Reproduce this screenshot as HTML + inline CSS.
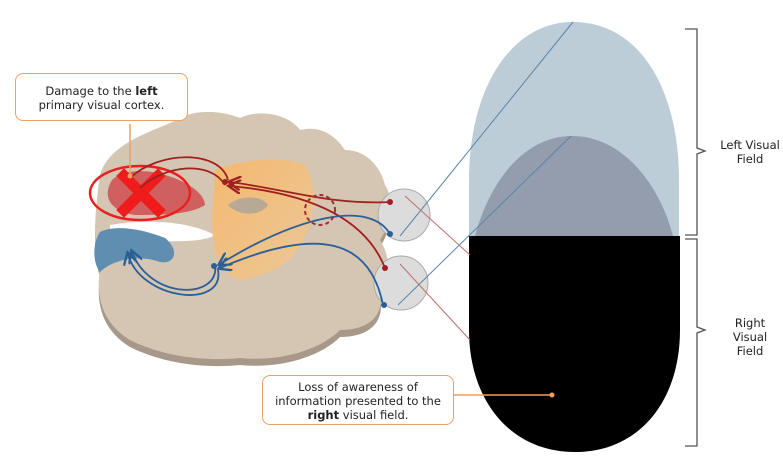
<!DOCTYPE html>
<html><head><meta charset="utf-8"><style>
body{margin:0;background:#fff;width:783px;height:473px;overflow:hidden;font-family:"DejaVu Sans","Liberation Sans",sans-serif;}
.box{position:absolute;border:1.5px solid #f0a060;border-radius:8px;background:#fff;font-size:11.5px;line-height:14px;text-align:center;color:#222;}
.lbl{position:absolute;font-size:11.5px;line-height:14px;text-align:center;color:#222;}
</style></head><body>
<svg width="783" height="473" style="position:absolute;left:0;top:0">
<defs><linearGradient id="og" x1="0" y1="0" x2="1" y2="1"><stop offset="0" stop-color="#f4b870"/><stop offset="1" stop-color="#ecc898"/></linearGradient>
<marker id="ar" markerWidth="8" markerHeight="8" refX="6" refY="4" orient="auto"><path d="M0,0 L7,4 L0,8" fill="none" stroke="#a02020" stroke-width="1.3"/></marker>
<marker id="ab" markerWidth="8" markerHeight="8" refX="6" refY="4" orient="auto"><path d="M0,0 L7,4 L0,8" fill="none" stroke="#2a5f98" stroke-width="1.3"/></marker></defs>
<path d="M100,175 C110,140 160,130 180,118 C200,108 225,112 240,118 C260,108 290,115 300,130 C320,125 335,135 345,150 C365,150 380,165 385,185 C395,200 390,225 380,240 C390,255 392,280 380,290 C385,315 370,330 340,330 C320,350 280,362 240,358 C200,362 160,355 130,340 C105,325 95,300 100,270 C92,245 95,210 100,175 Z" fill="#a8988a" transform="translate(0,7)"/>
<path d="M100,175 C110,140 160,130 180,118 C200,108 225,112 240,118 C260,108 290,115 300,130 C320,125 335,135 345,150 C365,150 380,165 385,185 C395,200 390,225 380,240 C390,255 392,280 380,290 C385,315 370,330 340,330 C320,350 280,362 240,358 C200,362 160,355 130,340 C105,325 95,300 100,270 C92,245 95,210 100,175 Z" fill="#d5c6b3"/>
<path d="M110,225 C150,218 190,222 215,235 C200,245 150,240 110,240 Z" fill="#fff"/>
<path d="M215,170 C240,160 280,155 305,165 C320,190 315,220 300,245 C290,265 270,275 240,280 C220,275 212,250 212,220 Z" fill="url(#og)"/>
<path d="M228,205 C240,195 262,195 268,205 C262,215 240,218 228,205 Z" fill="#b8a896"/>
<path d="M112,180 C125,168 150,170 165,175 C190,182 205,195 205,205 C190,215 160,215 135,215 C115,212 100,200 112,180 Z" fill="#d06060"/>
<path d="M100,232 C115,225 140,228 165,238 C180,250 175,265 160,262 C140,255 115,258 100,272 C92,262 93,242 100,232 Z" fill="#5f8eb0"/>
<ellipse cx="140" cy="193" rx="50" ry="27" fill="none" stroke="#e82020" stroke-width="2.5"/>
<g stroke="#f01c1c" stroke-width="11" stroke-linecap="square"><line x1="124" y1="176" x2="158" y2="210"/><line x1="158" y1="176" x2="124" y2="210"/></g>
<circle cx="404" cy="215" r="26" fill="#dcdcdc" stroke="#aaa"/>
<circle cx="401" cy="283" r="27" fill="#dcdcdc" stroke="#aaa"/>
<g fill="none" stroke-width="1.8">
<path d="M390,202 C330,205 290,190 230,182" stroke="#a02020" marker-end="url(#ar)"/>
<path d="M385,268 C370,230 330,195 230,186" stroke="#a02020" marker-end="url(#ar)"/>
<path d="M228,180 C220,150 160,150 130,178" stroke="#a02020"/>
<path d="M225,185 C210,160 165,165 140,188" stroke="#a02020"/>
<path d="M390,234 C370,200 300,215 220,264" stroke="#2a5f98" marker-end="url(#ab)"/>
<path d="M383,305 C370,240 320,225 220,268" stroke="#2a5f98" marker-end="url(#ab)"/>
<path d="M215,265 C220,300 150,300 132,252" stroke="#2a5f98" marker-end="url(#ab)"/>
<path d="M218,270 C225,310 140,300 128,254" stroke="#2a5f98" marker-end="url(#ab)"/>
</g>
<circle cx="320" cy="210" r="15" fill="none" stroke="#a03030" stroke-width="2" stroke-dasharray="4,3"/>
<g fill="#a02020"><circle cx="390" cy="202" r="3"/><circle cx="385" cy="268" r="3"/><circle cx="225" cy="182" r="3"/></g>
<g fill="#2a5f98"><circle cx="390" cy="234" r="3"/><circle cx="384" cy="305" r="3"/><circle cx="214" cy="266" r="3"/></g>
<path d="M469,236 L469,180 C469,90 510,22 573,22 C640,22 679,90 679,180 L679,236 Z" fill="#bccdd8"/>
<path d="M475,236 C490,180 525,136 572,136 C620,136 658,180 673,236 Z" fill="#939dad"/>
<path d="M469,236 L680,236 L680,330 C680,400 640,452 575,452 C510,452 469,400 469,330 Z" fill="#000"/>
<g fill="none" stroke-width="1">
<path d="M400,236 L573,22" stroke="#5a86a8"/>
<path d="M398,305 L571,136" stroke="#5a86a8"/>
<path d="M405,196 L470,255" stroke="#c07070"/>
<path d="M400,264 L470,340" stroke="#c07070"/>
</g>
<g fill="none" stroke="#555" stroke-width="1.3">
<path d="M685,29 L697,29 L697,148 L705,151 L697,154 L697,235 L685,235"/>
<path d="M685,239 L697,239 L697,327 L705,330 L697,333 L697,446 L685,446"/>
</g>
<line x1="130" y1="124" x2="130" y2="176" stroke="#f0a060" stroke-width="1.5"/>
<circle cx="130" cy="176" r="2.5" fill="#f0a060"/>
<line x1="454" y1="395" x2="552" y2="395" stroke="#f0a060" stroke-width="1.5"/>
<circle cx="552" cy="395" r="2.5" fill="#f0a060"/>
</svg>
<div class="box" style="left:15px;top:73px;width:173px;height:48px;box-sizing:border-box;padding-top:10px">Damage to the <b>left</b><br>primary visual cortex.</div>
<div class="box" style="left:262px;top:375px;width:192px;height:50px;box-sizing:border-box;padding-top:4px">Loss of awareness of<br>information presented to the<br><b>right</b> visual field.</div>
<div class="lbl" style="left:705px;top:138px;width:90px">Left Visual<br>Field</div>
<div class="lbl" style="left:705px;top:316px;width:90px">Right<br>Visual<br>Field</div>
</body></html>
